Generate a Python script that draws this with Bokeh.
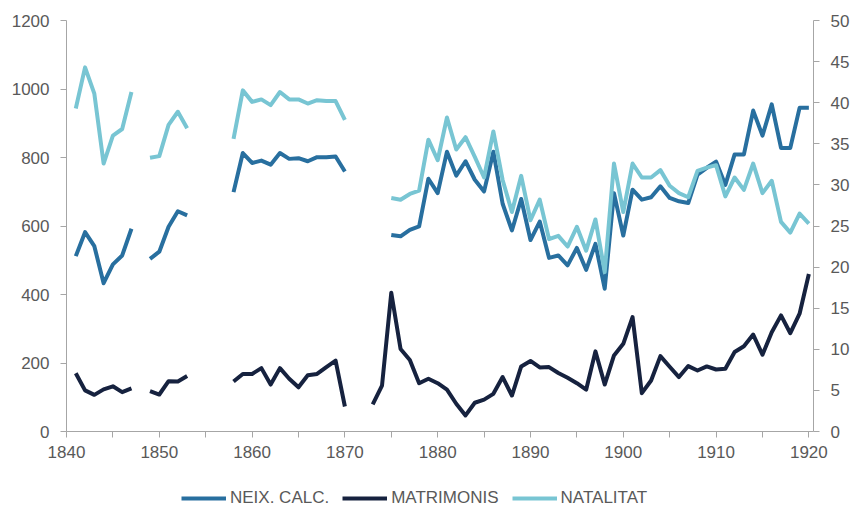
import math
from bokeh.plotting import figure
from bokeh.layouts import column
from bokeh.models import (Range1d, LinearAxis, FixedTicker, Legend, LegendItem,
                          ColumnDataSource)
from bokeh.embed import file_html
from bokeh.resources import INLINE

nan = float("nan")

years = list(range(1841, 1921))

neix_calc = [
    512, 582, 541, 433, 488, 514, 592, nan, 504, 525,            # 1841-1850
    598, 643, 631, nan, nan, nan, nan, 699, 813, 784,            # 1851-1860
    791, 779, 813, 796, 798, 789, 801, 801, 803, 759,            # 1861-1870
    nan, nan, nan, nan, 574, 570, 589, 599, 738, 696,            # 1871-1880
    817, 747, 789, 735, 701, 817, 665, 587, 679, 559,            # 1881-1890
    613, 507, 514, 485, 536, 472, 548, 417, 696, 572,            # 1891-1900
    706, 677, 684, 716, 682, 672, 667, 750, 770, 788,            # 1901-1910
    720, 809, 809, 937, 864, 955, 828, 828, 945, 945,            # 1911-1920
]

matrimonis = [
    170, 120, 107, 123, 132, 115, 126, nan, 118, 108,            # 1841-1850
    147, 146, 162, nan, nan, nan, nan, 146, 168, 168,            # 1851-1860
    185, 137, 185, 154, 129, 164, 168, 188, 207, 73,             # 1861-1870
    nan, nan, 79, 134, 405, 241, 209, 141, 154, 141,             # 1871-1880
    122, 81, 47, 84, 93, 110, 159, 105, 190, 206,                # 1881-1890
    187, 188, 171, 157, 141, 122, 234, 137, 222, 256,            # 1891-1900
    334, 112, 149, 220, 189, 159, 191, 178, 190, 181,            # 1901-1910
    183, 232, 249, 283, 224, 290, 339, 287, 344, 460,            # 1911-1920
]

natalitat = [
    39.3, 44.3, 41.1, 32.6, 36.0, 36.8, 41.3, nan, 33.3, 33.5,   # 1841-1850
    37.3, 38.9, 36.9, nan, nan, nan, nan, 35.6, 41.5, 40.1,      # 1851-1860
    40.4, 39.7, 41.3, 40.4, 40.4, 39.9, 40.3, 40.2, 40.2, 37.9,  # 1861-1870
    nan, nan, nan, nan, 28.4, 28.2, 28.9, 29.3, 35.5, 33.0,      # 1871-1880
    38.2, 34.3, 35.8, 33.4, 30.9, 36.5, 30.6, 26.7, 31.1, 25.7,  # 1881-1890
    28.2, 23.4, 23.8, 22.5, 24.9, 22.0, 25.8, 19.4, 32.6, 26.7,  # 1891-1900
    32.6, 30.9, 30.9, 31.8, 29.9, 29.0, 28.5, 31.7, 32.1, 32.4,  # 1901-1910
    28.6, 30.9, 29.4, 32.6, 29.0, 30.5, 25.5, 24.2, 26.5, 25.3,  # 1911-1920
]

series_names = ["NEIX. CALC.", "MATRIMONIS", "NATALITAT"]
x_labels = [1840, 1850, 1860, 1870, 1880, 1890, 1900, 1910, 1920]
x_minor = [1845, 1855, 1865, 1875, 1885, 1895, 1905, 1915]
left_ticks = [0, 200, 400, 600, 800, 1000, 1200]
right_ticks = [0, 5, 10, 15, 20, 25, 30, 35, 40, 45, 50]

C_NEIX = "#286f9f"
C_MAT = "#16223f"
C_NAT = "#78c5d3"
TXT = "#595959"
AX = "#a6a6a6"
FONT = "Liberation Sans"

src = ColumnDataSource(dict(year=years, neix=neix_calc, mat=matrimonis, nat=natalitat))

p = figure(frame_width=747, frame_height=411, output_backend="svg", toolbar_location=None,
           x_range=Range1d(1840, 1920.5), y_range=Range1d(0, 1200),
           min_border_left=66, min_border_right=40, min_border_top=20,
           min_border_bottom=49)
p.extra_y_ranges = {"right": Range1d(0, 50)}
p.outline_line_color = None
p.xgrid.visible = False
p.ygrid.visible = False
p.background_fill_color = "white"
p.border_fill_color = "white"

def style_axis(ax):
    ax.axis_line_color = AX
    ax.major_tick_line_color = AX
    ax.minor_tick_line_color = AX
    ax.major_tick_out = 6
    ax.major_tick_in = 0
    ax.minor_tick_out = 6
    ax.minor_tick_in = 0
    ax.major_label_text_font = FONT
    ax.major_label_text_font_size = "17px"
    ax.major_label_text_color = TXT
    ax.axis_line_width = 1

p.xaxis.ticker = FixedTicker(ticks=x_labels, minor_ticks=x_minor)
p.xaxis.major_label_standoff = 8
p.yaxis.ticker = FixedTicker(ticks=left_ticks)
p.yaxis.major_label_standoff = 11
style_axis(p.xaxis[0])
style_axis(p.yaxis[0])

ra = LinearAxis(y_range_name="right", ticker=FixedTicker(ticks=right_ticks))
ra.major_label_standoff = 11
style_axis(ra)
p.add_layout(ra, "right")

line_styles = [dict(line_color=C_NEIX, line_width=4, line_join="round"),
               dict(line_color=C_MAT, line_width=4, line_join="round"),
               dict(line_color=C_NAT, line_width=4, line_join="round")]

p.line("year", "neix", source=src, **line_styles[0])
p.line("year", "mat", source=src, **line_styles[1])
p.line("year", "nat", source=src, y_range_name="right", **line_styles[2])

# legend strip below the chart (swatch renderers carry no visible data)
lg = figure(width=853, height=28, output_backend="svg", toolbar_location=None,
            x_range=Range1d(0, 1), y_range=Range1d(0, 1),
            x_axis_type=None, y_axis_type=None,
            min_border_left=0, min_border_right=0, min_border_top=0, min_border_bottom=0)
lg.outline_line_color = None
lg.xgrid.visible = False
lg.ygrid.visible = False
swatch = ColumnDataSource(dict(x=[nan], y=[nan]))
items = []
for name, st in zip(series_names, line_styles):
    r = lg.line("x", "y", source=swatch, **st)
    items.append(LegendItem(label=name, renderers=[r]))

legend = Legend(items=items, orientation="horizontal", location=(115, 0),
                glyph_width=45, glyph_height=16, label_standoff=4, spacing=13,
                label_text_font=FONT, label_text_font_size="17px",
                label_text_color=TXT, border_line_color=None,
                background_fill_alpha=0, padding=0, margin=0,
                label_height=16)
lg.add_layout(legend, "center")

layout = column(p, lg, spacing=0)
open("out.html", "w").write(file_html(layout, INLINE))
